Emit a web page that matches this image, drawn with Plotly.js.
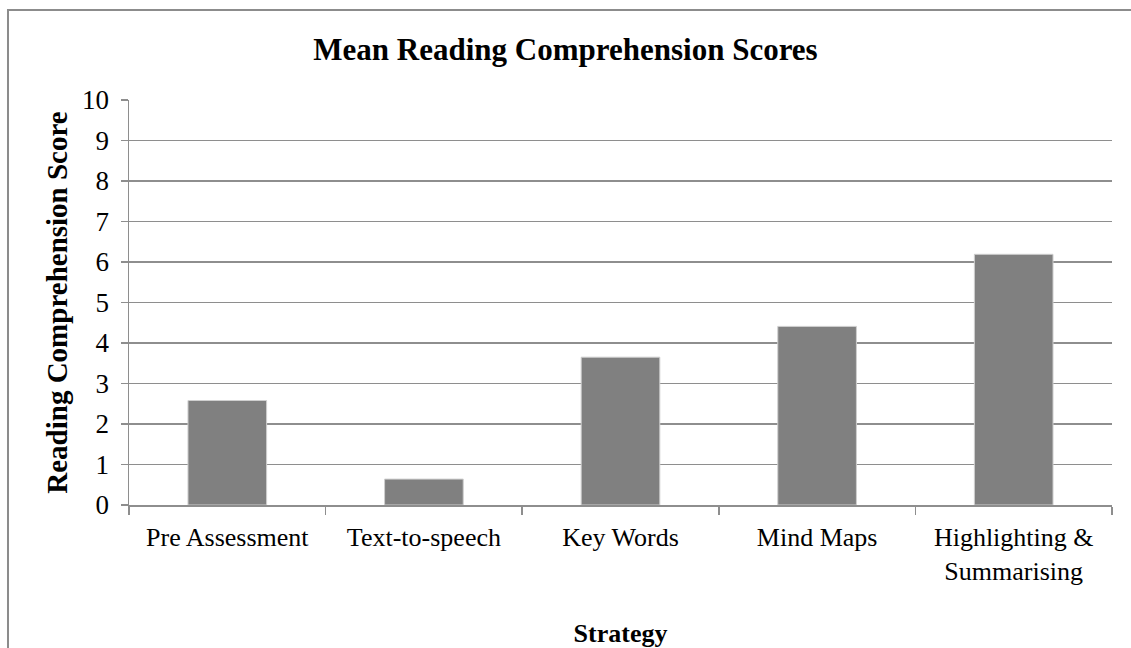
<!DOCTYPE html>
<html>
<head>
<meta charset="utf-8">
<script src="https://cdn.plot.ly/plotly-3.0.1.min.js"></script>
<style>
  html, body { margin: 0; padding: 0; background: #ffffff; }
  #chart { width: 1131px; height: 648px; }
</style>
</head>
<body>
<div id="chart"></div>
<script>
const categories = ["Pre Assessment", "Text-to-speech", "Key Words", "Mind Maps", "Highlighting &<br>Summarising"];
const meanScores = [2.58, 0.64, 3.65, 4.41, 6.19];
const yTickValues = [0, 1, 2, 3, 4, 5, 6, 7, 8, 9, 10];

const chartTitle = "Mean Reading Comprehension Scores";
const xTitle = "Strategy";
const yTitle = "Reading Comprehension Score";

const serif = "'Liberation Serif', 'Times New Roman', Times, serif";
const gridGray = "#8e8e8e";

const trace = {
  type: "bar",
  x: categories,
  y: meanScores,
  marker: { color: "#808080", line: { color: "#cfcfcf", width: 1 } },
  hoverinfo: "x+y"
};

const layout = {
  width: 1131,
  height: 648,
  paper_bgcolor: "#ffffff",
  plot_bgcolor: "#ffffff",
  margin: { l: 129, r: 19, t: 100, b: 143, pad: 0 },
  font: { family: serif, color: "#000000", size: 26 },
  title: {
    text: "<b>" + chartTitle + "</b>",
    font: { family: serif, size: 31, color: "#000000" },
    x: 0.5, xref: "container", xanchor: "center",
    y: 0.924, yref: "container", yanchor: "middle"
  },
  bargap: 0.6,
  showlegend: false,
  xaxis: {
    type: "category",
    tickson: "boundaries",
    ticks: "outside",
    ticklen: 8,
    tickcolor: gridGray,
    tickwidth: 1.5,
    showgrid: false,
    showline: true,
    linecolor: gridGray,
    linewidth: 1.5,
    ticklabelstandoff: 8,
    tickfont: { family: serif, size: 26, color: "#000000" },
    automargin: false,
    title: { text: "<b>" + xTitle + "</b>", font: { family: serif, size: 26, color: "#000000" }, standoff: 44 }
  },
  yaxis: {
    range: [0, 10],
    tickvals: yTickValues,
    ticks: "outside",
    ticklen: 7,
    tickcolor: gridGray,
    tickwidth: 1.5,
    showgrid: true,
    gridcolor: gridGray,
    gridwidth: 1.5,
    showline: true,
    linecolor: gridGray,
    linewidth: 1.5,
    zeroline: false,
    ticklabelstandoff: 6,
    tickfont: { family: serif, size: 27, color: "#000000" },
    automargin: false,
    title: { text: "<b>" + yTitle + "</b>", font: { family: serif, size: 29, color: "#000000" }, standoff: 6 }
  },
  shapes: [{
    type: "rect",
    xref: "paper", yref: "paper",
    x0: -0.1231, x1: 1.2,
    y0: -0.6, y1: 1.2222,
    line: { color: "#8c8c8c", width: 2 },
    fillcolor: "rgba(0,0,0,0)",
    layer: "below"
  }]
};

Plotly.newPlot("chart", [trace], layout, { displayModeBar: false, staticPlot: true });
</script>
</body>
</html>
